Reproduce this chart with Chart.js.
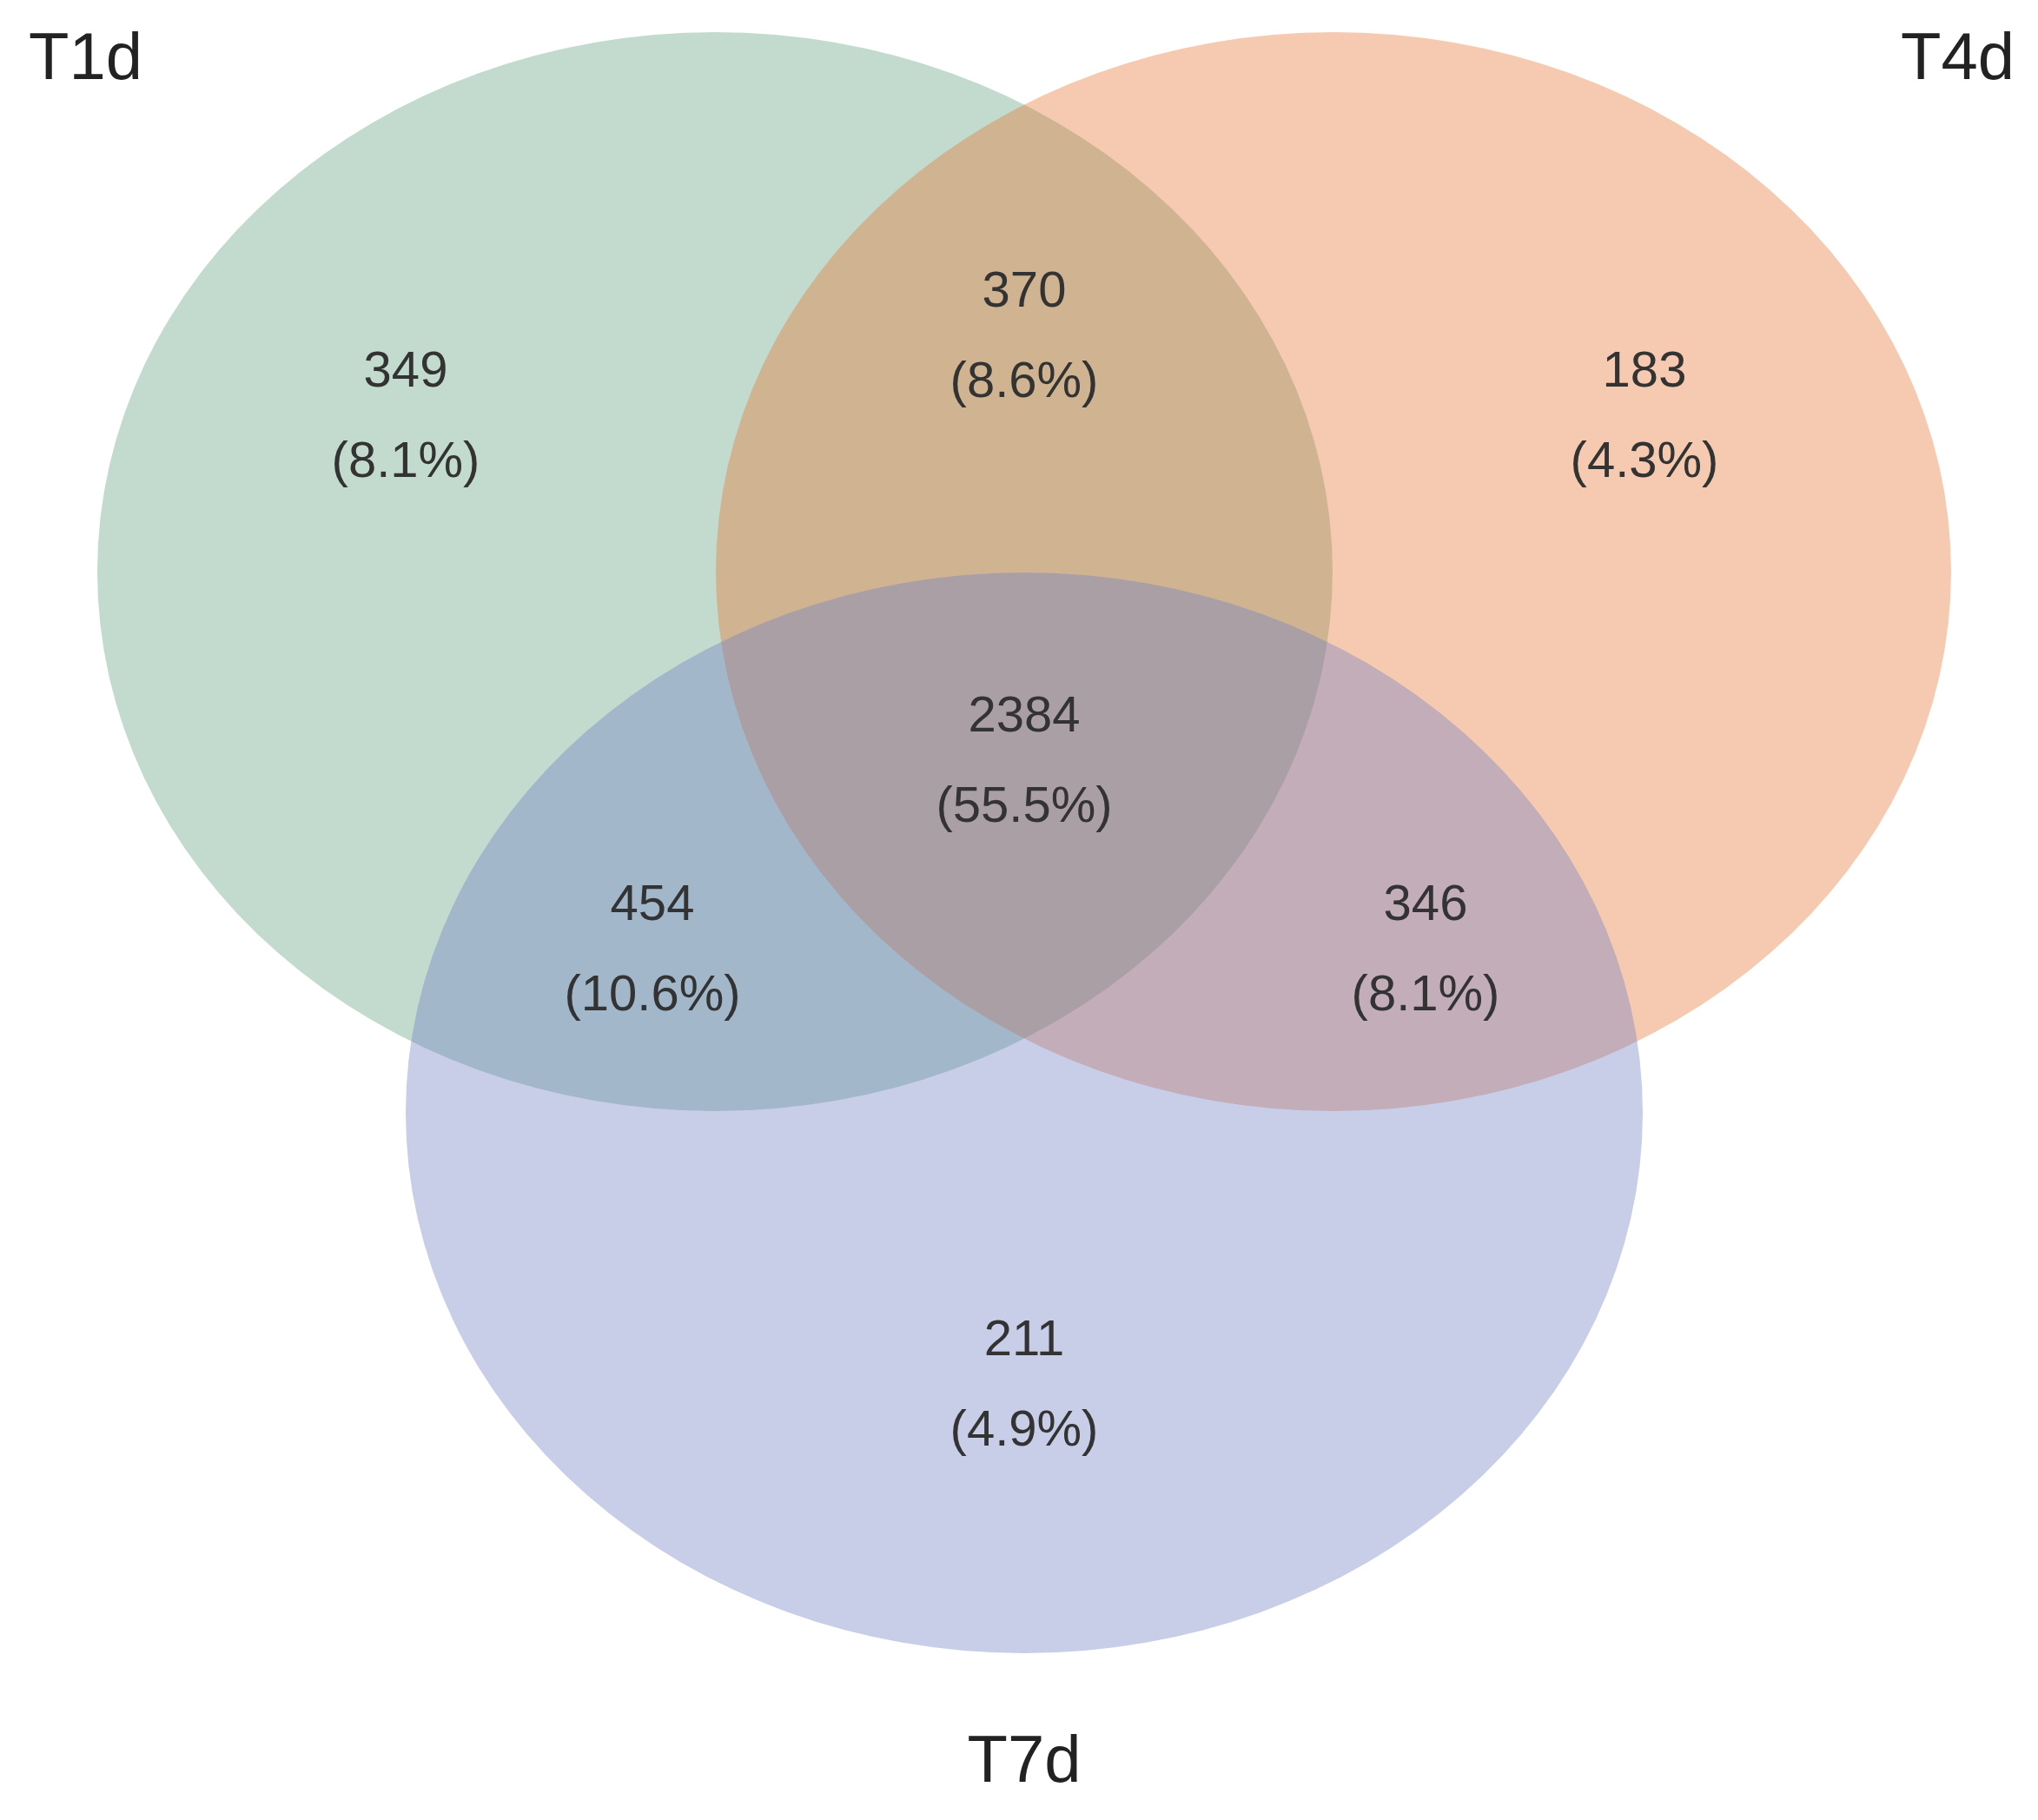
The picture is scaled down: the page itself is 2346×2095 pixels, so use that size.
<!DOCTYPE html>
<html>
<head>
<meta charset="utf-8">
<script src="https://cdn.jsdelivr.net/npm/chart.js@4/dist/chart.umd.min.js"></script>
<style>
  html, body { margin: 0; padding: 0; background: #fff; }
  #wrap { width: 2346px; height: 2095px; }
</style>
</head>
<body>
<div id="wrap"><canvas id="venn"></canvas></div>
<script>
// sets and region counts
const setNames = ["T1d", "T4d", "T7d"];
const setColors = ["rgba(102,166,133,0.4)", "rgba(230,122,57,0.4)", "rgba(117,130,197,0.4)"];
const regionNames = ["T1d only", "T1d∩T4d", "T4d only", "All", "T1d∩T7d", "T4d∩T7d", "T7d only"];
const regionCounts = [349, 370, 183, 2384, 454, 346, 211];
const regionPercents = ["8.1%", "8.6%", "4.3%", "55.5%", "10.6%", "8.1%", "4.9%"];

// layout (in scale units = pixels of the figure)
const ellipses = [
  { cx: 823, cy: 658, rx: 711, ry: 621 },
  { cx: 1535, cy: 658, rx: 711, ry: 621 },
  { cx: 1179, cy: 1281, rx: 712, ry: 622 }
];
const regionPos = [[467, 481], [1179, 389], [1893, 481], [1179, 878], [751, 1095], [1641, 1095], [1179, 1596]];
const setLabelPos = [
  { x: 33, y: 70, align: "left" },
  { x: 2319, y: 70, align: "right" },
  { x: 1179, y: 2030, align: "center" }
];

const vennPlugin = {
  id: "venn",
  afterDatasetsDraw(chart) {
    const { ctx, scales: { x, y } } = chart;
    ctx.save();
    ellipses.forEach((e, i) => {
      const cx = x.getPixelForValue(e.cx), cy = y.getPixelForValue(e.cy);
      const rx = Math.abs(x.getPixelForValue(e.cx + e.rx) - cx);
      const ry = Math.abs(y.getPixelForValue(e.cy + e.ry) - cy);
      ctx.beginPath();
      ctx.ellipse(cx, cy, rx, ry, 0, 0, Math.PI * 2);
      ctx.fillStyle = setColors[i];
      ctx.fill();
    });
    ctx.fillStyle = "#333";
    ctx.textAlign = "center";
    ctx.textBaseline = "middle";
    ctx.font = "58px 'Liberation Sans', Arial, sans-serif";
    regionCounts.forEach((c, i) => {
      const px = x.getPixelForValue(regionPos[i][0]);
      const py = y.getPixelForValue(regionPos[i][1]);
      ctx.fillText(String(c), px, py - 52);
      ctx.fillText("(" + regionPercents[i] + ")", px, py + 52);
    });
    ctx.font = "76px 'Liberation Sans', Arial, sans-serif";
    ctx.fillStyle = "#222";
    setNames.forEach((n, i) => {
      const p = setLabelPos[i];
      ctx.textAlign = p.align;
      ctx.fillText(n, x.getPixelForValue(p.x), y.getPixelForValue(p.y));
    });
    ctx.restore();
  }
};

new Chart(document.getElementById("venn").getContext("2d"), {
  type: "scatter",
  data: { datasets: [{ label: "centres", data: ellipses.map(e => ({ x: e.cx, y: e.cy })), pointRadius: 0 }] },
  options: {
    responsive: true,
    maintainAspectRatio: false,
    animation: false,
    layout: { padding: 0 },
    plugins: { legend: { display: false }, tooltip: { enabled: false } },
    scales: {
      x: { type: "linear", min: 0, max: 2346, display: false },
      y: { type: "linear", min: 0, max: 2095, reverse: true, display: false }
    }
  },
  plugins: [vennPlugin]
});
</script>
</body>
</html>
